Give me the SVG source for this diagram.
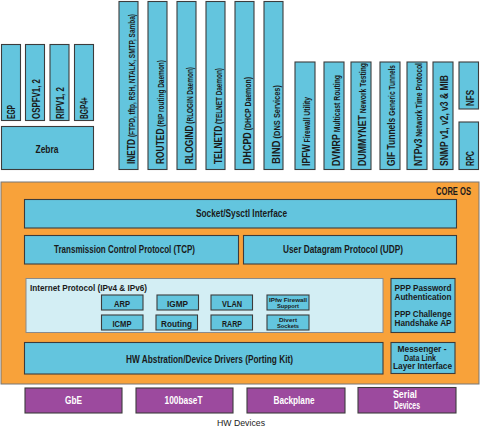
<svg xmlns="http://www.w3.org/2000/svg" width="480" height="428" viewBox="0 0 480 428">
<style>
text{font-family:"Liberation Sans",Arial,sans-serif;font-weight:bold;fill:#1a1a1a;}
.c{fill:#63c5de;stroke:#3c3c3c;stroke-width:1.1;}
.p{fill:#9c4a9e;stroke:#3c3c3c;stroke-width:1.1;}
.o{fill:#f8a23a;stroke:#777;stroke-width:1;}
.l{fill:#d3eef4;stroke:#8a8a8a;stroke-width:1;}
.v{font-size:11px;}
.s{font-size:8.5px;}
.h{font-size:10px;}
.t{font-size:8.6px;}
.m{text-anchor:middle;}
.w{fill:#ffffff;}
</style>
<rect width="480" height="428" fill="#ffffff"/>
<g id="connectors"/>
<!-- left routing group -->
<g id="egp"><rect class="c" x="1.5" y="44.5" width="19" height="76"/><text class="v" transform="translate(15,119) rotate(-90)" textLength="14" lengthAdjust="spacingAndGlyphs">EGP</text></g>
<g id="ospf"><rect class="c" x="25.5" y="44.5" width="19" height="76"/><text class="v" transform="translate(39.5,119) rotate(-90)" textLength="40" lengthAdjust="spacingAndGlyphs">OSPFV1, 2</text></g>
<g id="rip"><rect class="c" x="50" y="44.5" width="19" height="76"/><text class="v" transform="translate(63.5,119) rotate(-90)" textLength="32" lengthAdjust="spacingAndGlyphs">RIPV1, 2</text></g>
<g id="bgp"><rect class="c" x="74.5" y="44.5" width="19" height="76"/><text class="v" transform="translate(88,119) rotate(-90)" textLength="22" lengthAdjust="spacingAndGlyphs">BGP4+</text></g>
<g id="zebra"><rect class="c" x="1.5" y="126.5" width="92" height="43"/><text class="h m" x="47" y="153" textLength="23" lengthAdjust="spacingAndGlyphs">Zebra</text></g>
<!-- daemons -->
<g id="inetd"><rect class="c" x="119" y="1.5" width="19" height="168"/><text class="v" transform="translate(135,164) rotate(-90)" textLength="150" lengthAdjust="spacingAndGlyphs">INETD<tspan class="s"> (FTPD, tftp, RSH, NTALK, SMTP, Samba)</tspan></text></g>
<g id="routed"><rect class="c" x="148" y="1.5" width="19" height="168"/><text class="v" transform="translate(164,164) rotate(-90)" textLength="104" lengthAdjust="spacingAndGlyphs">ROUTED<tspan class="s"> (RIP routing Daemon)</tspan></text></g>
<g id="rlogind"><rect class="c" x="177" y="1.5" width="19" height="168"/><text class="v" transform="translate(193,164) rotate(-90)" textLength="97" lengthAdjust="spacingAndGlyphs">RLOGIND<tspan class="s"> (RLOGIN Daemon)</tspan></text></g>
<g id="telnetd"><rect class="c" x="206" y="1.5" width="19" height="168"/><text class="v" transform="translate(222,164) rotate(-90)" textLength="96" lengthAdjust="spacingAndGlyphs">TELNETD<tspan class="s"> (TELNET Daemon)</tspan></text></g>
<g id="dhcpd"><rect class="c" x="235" y="1.5" width="19" height="168"/><text class="v" transform="translate(251,164) rotate(-90)" textLength="87" lengthAdjust="spacingAndGlyphs">DHCPD<tspan class="s"> (DHCP Daemon)</tspan></text></g>
<g id="bind"><rect class="c" x="264" y="1.5" width="19" height="168"/><text class="v" transform="translate(280,164) rotate(-90)" textLength="79" lengthAdjust="spacingAndGlyphs">BIND<tspan class="s"> (DNS Services)</tspan></text></g>
<!-- utilities -->
<g id="ipfw"><rect class="c" x="295" y="62" width="20" height="107.5"/><text class="v" transform="translate(310,166) rotate(-90)" textLength="69" lengthAdjust="spacingAndGlyphs">IPFW<tspan class="s"> Firewall Utility</tspan></text></g>
<g id="dvmrp"><rect class="c" x="324" y="62" width="20" height="107.5"/><text class="v" transform="translate(339.5,166) rotate(-90)" textLength="91" lengthAdjust="spacingAndGlyphs">DVMRP<tspan class="s"> Multicast Routing</tspan></text></g>
<g id="dummynet"><rect class="c" x="351" y="62" width="20" height="107.5"/><text class="v" transform="translate(366,166) rotate(-90)" textLength="103" lengthAdjust="spacingAndGlyphs">DUMMYNET<tspan class="s"> Nework Testing</tspan></text></g>
<g id="gif"><rect class="c" x="380" y="62" width="20" height="107.5"/><text class="v" transform="translate(395,166) rotate(-90)" textLength="101" lengthAdjust="spacingAndGlyphs">GIF Tunnels<tspan class="s"> Generic Tunnels</tspan></text></g>
<g id="ntp"><rect class="c" x="407" y="62" width="20" height="107.5"/><text class="v" transform="translate(422,166) rotate(-90)" textLength="103" lengthAdjust="spacingAndGlyphs">NTPv3<tspan class="s"> Network Time Protocol</tspan></text></g>
<g id="snmp"><rect class="c" x="433" y="62" width="20" height="107.5"/><text class="v" transform="translate(448,166) rotate(-90)" textLength="91" lengthAdjust="spacingAndGlyphs">SNMP v1, v2, v3 &amp; MIB</text></g>
<g id="nfs"><rect class="c" x="459" y="62" width="19.5" height="47"/><text class="v" transform="translate(474,106) rotate(-90)" textLength="16" lengthAdjust="spacingAndGlyphs">NFS</text></g>
<g id="rpc"><rect class="c" x="459" y="122" width="19.5" height="47.5"/><text class="v" transform="translate(474,166) rotate(-90)" textLength="15" lengthAdjust="spacingAndGlyphs">RPC</text></g>
<!-- core OS -->
<g id="core-os"><rect class="o" x="1" y="182" width="478" height="202"/><text class="h" x="471" y="195" text-anchor="end" textLength="35" lengthAdjust="spacingAndGlyphs">CORE OS</text></g>
<g id="socket"><rect class="c" x="24.5" y="199.5" width="432" height="28.5"/><text class="h m" x="241.5" y="217" textLength="91" lengthAdjust="spacingAndGlyphs">Socket/Sysctl Interface</text></g>
<g id="tcp"><rect class="c" x="24.5" y="235.5" width="214" height="28.5"/><text class="h m" x="124.5" y="253" textLength="141" lengthAdjust="spacingAndGlyphs">Transmission Control Protocol (TCP)</text></g>
<g id="udp"><rect class="c" x="243.5" y="235.5" width="213" height="28.5"/><text class="h m" x="343" y="253" textLength="120" lengthAdjust="spacingAndGlyphs">User Datagram Protocol (UDP)</text></g>
<g id="ip"><rect class="l" x="26" y="278.5" width="357" height="54"/><text x="30" y="291" style="font-size:9.5px" textLength="117" lengthAdjust="spacingAndGlyphs">Internet Protocol (IPv4 &amp; IPv6)</text></g>
<g id="arp"><rect class="c" x="101.5" y="295" width="41.5" height="15"/><text class="m" style="font-size:9.5px" x="122" y="306.5" textLength="16" lengthAdjust="spacingAndGlyphs">ARP</text></g>
<g id="igmp"><rect class="c" x="157" y="295" width="41.5" height="15"/><text class="m" style="font-size:9.5px" x="177.5" y="306.5" textLength="21" lengthAdjust="spacingAndGlyphs">IGMP</text></g>
<g id="vlan"><rect class="c" x="211" y="295" width="41.5" height="15"/><text class="m" style="font-size:9.5px" x="232" y="306.5" textLength="20" lengthAdjust="spacingAndGlyphs">VLAN</text></g>
<g id="ipfw-support"><rect class="c" x="267" y="295" width="42" height="15"/><text class="m" style="font-size:6.2px" x="288" y="301.5" textLength="38" lengthAdjust="spacingAndGlyphs">IPfw Firewall</text><text class="m" style="font-size:6.2px" x="288" y="308.3" textLength="22" lengthAdjust="spacingAndGlyphs">Support</text></g>
<g id="icmp"><rect class="c" x="101.5" y="315" width="41.5" height="15"/><text class="m" style="font-size:9.5px" x="122" y="326.5" textLength="19" lengthAdjust="spacingAndGlyphs">ICMP</text></g>
<g id="routing"><rect class="c" x="156" y="315" width="41.5" height="15"/><text class="m" style="font-size:9.5px" x="176.5" y="326.5" textLength="31" lengthAdjust="spacingAndGlyphs">Routing</text></g>
<g id="rarp"><rect class="c" x="211" y="315" width="41.5" height="15"/><text class="m" style="font-size:9.5px" x="232" y="326.5" textLength="20" lengthAdjust="spacingAndGlyphs">RARP</text></g>
<g id="divert"><rect class="c" x="267" y="315" width="42" height="15"/><text class="m" style="font-size:6.2px" x="288" y="321.5" textLength="18" lengthAdjust="spacingAndGlyphs">Divert</text><text class="m" style="font-size:6.2px" x="288" y="328.3" textLength="22" lengthAdjust="spacingAndGlyphs">Sockets</text></g>
<g id="ppp"><rect class="c" x="391" y="278.5" width="64" height="54"/><text class="t m" x="423" y="291" textLength="57" lengthAdjust="spacingAndGlyphs">PPP Password</text><text class="t m" x="423" y="299.5" textLength="57" lengthAdjust="spacingAndGlyphs">Authentication</text><text class="t m" x="423" y="317" textLength="57" lengthAdjust="spacingAndGlyphs">PPP Challenge</text><text class="t m" x="423" y="325.5" textLength="57" lengthAdjust="spacingAndGlyphs">Handshake AP</text></g>
<g id="hw-abstraction"><rect class="c" x="24.5" y="342.5" width="358.5" height="31.5"/><text class="h m" x="209.5" y="363" textLength="167" lengthAdjust="spacingAndGlyphs">HW Abstration/Device Drivers (Porting Kit)</text></g>
<g id="messenger"><rect class="c" x="391" y="342.5" width="64" height="31"/><text class="t m" x="422" y="352" textLength="49" lengthAdjust="spacingAndGlyphs">Messenger -</text><text class="t m" x="420" y="360.5" textLength="32" lengthAdjust="spacingAndGlyphs">Data Link</text><text class="t m" x="422.5" y="369" textLength="59" lengthAdjust="spacingAndGlyphs">Layer Interface</text></g>
<!-- HW devices -->
<g id="gbe"><rect class="p" x="25" y="388" width="97" height="25"/><text class="h m w" x="73.5" y="403.5" textLength="17" lengthAdjust="spacingAndGlyphs">GbE</text></g>
<g id="100baset"><rect class="p" x="136" y="388" width="97" height="25"/><text class="h m w" x="183.5" y="403.5" textLength="38" lengthAdjust="spacingAndGlyphs">100baseT</text></g>
<g id="backplane"><rect class="p" x="247" y="388" width="98" height="25"/><text class="h m w" x="294" y="403.5" textLength="41" lengthAdjust="spacingAndGlyphs">Backplane</text></g>
<g id="serial"><rect class="p" x="358" y="387.5" width="98" height="25.5"/><text class="h m w" x="405" y="397.5" textLength="24" lengthAdjust="spacingAndGlyphs">Serial</text><text class="h m w" x="407" y="409" textLength="26" lengthAdjust="spacingAndGlyphs">Devices</text></g>
<g id="hw-devices-label"><text x="241" y="426" text-anchor="middle" style="font-size:9.5px;font-weight:normal;fill:#222" textLength="48" lengthAdjust="spacingAndGlyphs">HW Devices</text></g>
</svg>
